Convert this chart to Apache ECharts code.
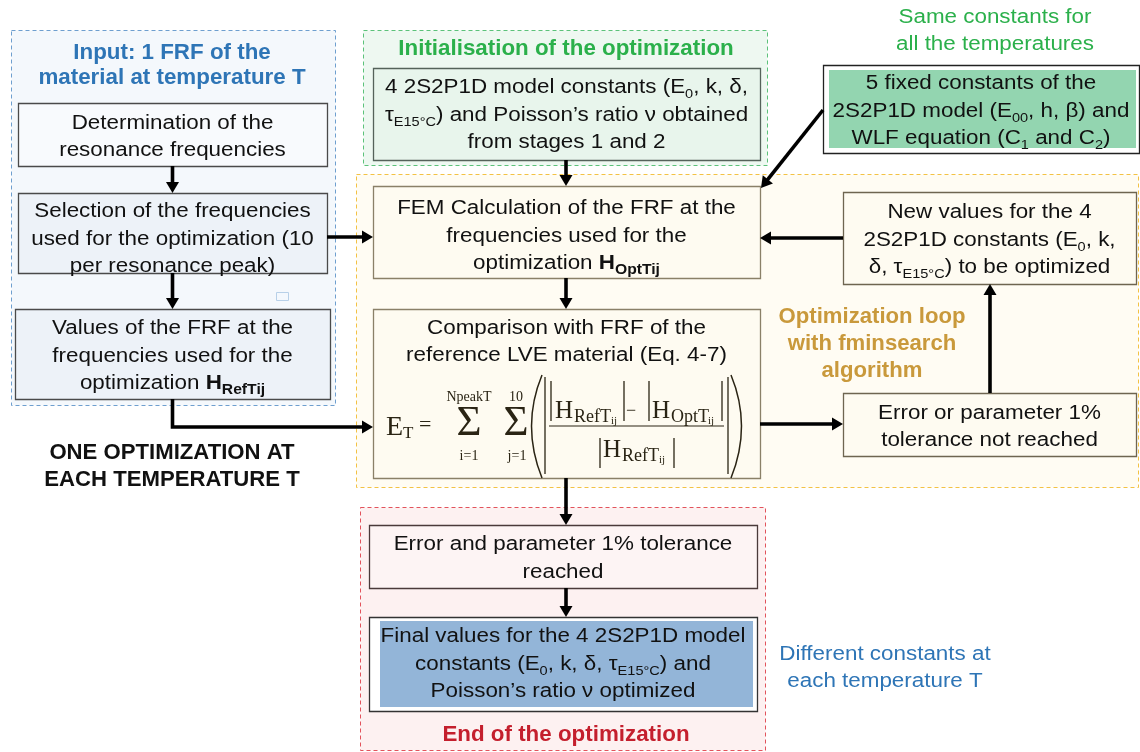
<!DOCTYPE html>
<html><head><meta charset="utf-8">
<script src="https://cdn.jsdelivr.net/npm/echarts@6/dist/echarts.min.js"></script>
<style>html,body{margin:0;padding:0;background:#fff}#c{width:1140px;height:752px}</style>
</head><body><div id="c"></div>
<script>
// ---------- content ----------
const groupNames  = ['input', 'init', 'loop', 'end'];
const groupTitles = ['Input: 1 FRF of the\nmaterial at temperature T', 'Initialisation of the optimization', '', 'End of the optimization'];

const boxNames  = ['det', 'sel', 'val', 'init', 'fem', 'cmp', 'newv', 'err', 'fixed', 'reach', 'final'];
const boxLabels = [
  'Determination of the\nresonance frequencies',
  'Selection of the frequencies\nused for the optimization (10\nper resonance peak)',
  'Values of the FRF at the\nfrequencies used for the\noptimization {b|H}{bs|RefTij}',
  '4 2S2P1D model constants (E{s|0}, k, δ,\nτ{s|E15°C}) and Poisson’s ratio ν obtained\nfrom stages 1 and 2',
  'FEM Calculation of the FRF at the\nfrequencies used for the\noptimization {b|H}{bs|OptTij}',
  'Comparison with FRF of the\nreference LVE material (Eq. 4-7)',
  'New values for the 4\n2S2P1D constants (E{s|0}, k,\nδ, τ{s|E15°C}) to be optimized',
  'Error or parameter 1%\ntolerance not reached',
  '5 fixed constants of the\n2S2P1D model (E{s|00}, h, β) and\nWLF equation (C{s|1} and C{s|2})',
  'Error and parameter 1% tolerance\nreached',
  'Final values for the 4 2S2P1D model\nconstants (E{s|0}, k, δ, τ{s|E15°C}) and\nPoisson’s ratio ν optimized'
];

const noteNames  = ['same', 'one', 'loopNote', 'diff'];
const noteLabels = [
  'Same constants for\nall the temperatures',
  'ONE OPTIMIZATION AT\nEACH TEMPERATURE T',
  'Optimization loop\nwith fminsearch\nalgorithm',
  'Different constants at\neach temperature T'
];

// arrows: [from, to, kind]
const links = [
  ['det', 'sel', 'down'], ['sel', 'val', 'down'], ['sel', 'fem', 'right'],
  ['val', 'cmp', 'elbow'], ['init', 'fem', 'down'], ['fixed', 'fem', 'diag'],
  ['fem', 'cmp', 'down'], ['newv', 'fem', 'left'], ['cmp', 'err', 'right'],
  ['err', 'newv', 'up'], ['cmp', 'reach', 'down'], ['reach', 'final', 'down']
];

// error formula tokens
const formulaText = ['E', 'T', '=', 'Σ', 'NpeakT', 'i=1', 'Σ', '10', 'j=1',
  'H', 'RefT', 'ij', '−', 'H', 'OptT', 'ij', 'H', 'RefT', 'ij'];

// ---------- layout & style ----------
const FONT = 'Liberation Sans', SERIF = 'Liberation Serif';
const SX = 1.12;
const groupLayout = {
  input: {x: 11, y: 30, w: 324, h: 375, stroke: '#6e9fcf', fill: '#f4f8fc', color: '#2e75b6', cx: 172, cy: 65.5},
  init:  {x: 363, y: 30, w: 404, h: 135, stroke: '#5cc27a', fill: '#eef8f1', color: '#2bb04b', cx: 566, cy: 49.5},
  loop:  {x: 356, y: 174, w: 782, h: 313, stroke: '#f3c244', fill: '#fffcf3'},
  end:   {x: 360, y: 507, w: 405, h: 243, stroke: '#e2535c', fill: '#fdf1f1', color: '#c41f2d', cx: 566, cy: 735.5}
};
const boxLayout = {
  det:   {x: 18,  y: 103, w: 309, h: 63,  fill: '#f8fafd', stroke: '#4a4a4a', cy: 137},
  sel:   {x: 18,  y: 193, w: 309, h: 80,  fill: '#edf2f8', stroke: '#4a4a4a', cy: 239},
  val:   {x: 15,  y: 309, w: 315, h: 90,  fill: '#edf2f8', stroke: '#4a4a4a', cy: 356},
  init:  {x: 373, y: 68,  w: 387, h: 92,  fill: '#e8f5ec', stroke: '#55625a', cy: 115},
  fem:   {x: 373, y: 186, w: 387, h: 92,  fill: '#fefbf1', stroke: '#8a8068', cy: 236},
  cmp:   {x: 373, y: 309, w: 387, h: 169, fill: '#fefbf1', stroke: '#8a8068', cy: 342},
  newv:  {x: 843, y: 192, w: 293, h: 92,  fill: '#fefbf1', stroke: '#6e6550', cy: 240},
  err:   {x: 843, y: 393, w: 293, h: 63,  fill: '#fefbf1', stroke: '#6e6550', cy: 427},
  fixed: {x: 823, y: 65,  w: 316, h: 88,  fill: '#ffffff', stroke: '#222', inner: '#93d5b0', pad: [5, 3, 5, 6], cy: 111},
  reach: {x: 369, y: 525, w: 388, h: 63,  fill: '#fdf4f4', stroke: '#4a3a3a', cy: 558.5},
  final: {x: 369, y: 617, w: 388, h: 94,  fill: '#ffffff', stroke: '#333', inner: '#93b5d8', pad: [4, 4, 4, 11], cy: 664}
};
const noteLayout = {
  same:     {cx: 995, cy: 31, color: '#2bb04b', bold: false},
  one:      {cx: 172, cy: 467, color: '#111', bold: true},
  loopNote: {cx: 872, cy: 344, color: '#c9993b', bold: true},
  diff:     {cx: 885, cy: 668, color: '#2e75b6', bold: false}
};
const linkOpts = {
  'sel>fem': {y: 237}, 'val>cmp': {y: 427}, 'newv>fem': {y: 238}, 'cmp>err': {y: 424},
  'err>newv': {x: 990}, 'fixed>fem': {p1: [823, 110], p2: [761, 188]}, 'init>fem': {x: 566},
  'fem>cmp': {x: 566}, 'cmp>reach': {x: 566}, 'reach>final': {x: 566}
};
// formula token placement: [x, y, size, align]
const formulaPos = [
  [386, 428, 28, 'left'], [403, 434, 17, 'left'], [419, 425, 22, 'left'],
  [469, 424, 43, 'center'], [469, 397, 14, 'center'], [469, 456, 14, 'center'],
  [516, 424, 43, 'center'], [516, 397, 14, 'center'], [517, 456, 14, 'center'],
  [555, 411, 25, 'left'], [574, 417, 18, 'left'], [611, 421, 11, 'left'],
  [631, 411, 18, 'center'],
  [652, 411, 25, 'left'], [671, 417, 18, 'left'], [708, 421, 11, 'left'],
  [603, 450, 25, 'left'], [622, 456, 18, 'left'], [659, 460, 11, 'left']
];
const formulaBars = [[551, 381, 421], [624, 381, 421], [649, 381, 421], [722, 381, 421],
  [600, 438, 468], [674, 438, 468], [545, 377, 474], [728, 377, 474]];

const RICH = {
  s:  {fontSize: 13, fontFamily: FONT, lineHeight: 14, verticalAlign: 'bottom'},
  b:  {fontSize: 20, fontFamily: FONT, fontWeight: 'bold'},
  bs: {fontSize: 14, fontFamily: FONT, fontWeight: 'bold', lineHeight: 14, verticalAlign: 'bottom'}
};

function txt(x, y, text, o) {
  o = o || {};
  const rich = {};
  Object.keys(RICH).forEach(k => { rich[k] = Object.assign({fill: o.color || '#111'}, RICH[k]); });
  return {
    type: 'text', x: x, y: y, scaleX: o.sx || 1, z: 20,
    style: {
      x: 0, y: 0, text: text, fill: o.color || '#111', fontSize: o.size || 20,
      fontFamily: o.family || FONT, fontWeight: o.weight || 'normal',
      align: o.align || 'center', verticalAlign: 'middle', lineHeight: o.lh || 27.5, rich: rich
    }
  };
}

function arrow(pts) {
  const hl = 11, hw = 6.5, n = pts.length;
  const [x1, y1] = pts[n - 2], [x2, y2] = pts[n - 1];
  const dx = x2 - x1, dy = y2 - y1, L = Math.hypot(dx, dy), ux = dx / L, uy = dy / L;
  const bx = x2 - ux * hl, by = y2 - uy * hl;
  const line = pts.slice(0, n - 1).concat([[bx + ux, by + uy]]);
  return [
    {type: 'polyline', z: 15, shape: {points: line}, style: {stroke: '#000', lineWidth: 3.6, fill: null, lineJoin: 'miter'}},
    {type: 'polygon', z: 15, shape: {points: [[x2, y2], [bx - uy * hw, by + ux * hw], [bx + uy * hw, by - ux * hw]]}, style: {fill: '#000'}}
  ];
}

const els = [];
// groups
groupNames.forEach((g, i) => {
  const L = groupLayout[g];
  els.push({type: 'rect', z: 1, shape: {x: L.x + 0.5, y: L.y + 0.5, width: L.w, height: L.h},
    style: {fill: L.fill, stroke: L.stroke, lineWidth: 1, lineDash: [4, 3]}});
  if (groupTitles[i]) els.push(txt(L.cx, L.cy, groupTitles[i], {color: L.color, weight: 'bold', size: 21.5, lh: 25, sx: 1.04}));
});
// boxes
boxNames.forEach((b, i) => {
  const L = boxLayout[b];
  els.push({type: 'rect', z: 5, shape: {x: L.x + 0.5, y: L.y + 0.5, width: L.w, height: L.h},
    style: {fill: L.fill, stroke: L.stroke, lineWidth: 1.3}});
  if (L.inner) {
    const p = L.pad;
    els.push({type: 'rect', z: 6, shape: {x: L.x + p[3], y: L.y + p[0], width: L.w - p[1] - p[3], height: L.h - p[0] - p[2]},
      style: {fill: L.inner}});
  }
  els.push(txt(L.x + L.w / 2, L.cy, boxLabels[i], {sx: SX}));
});
// small artifact icon in the input group
els.push({type: 'rect', z: 6, shape: {x: 276.5, y: 292.5, width: 12, height: 8}, style: {fill: '#f3f8fd', stroke: '#b7d0e8', lineWidth: 1}});
// notes
noteNames.forEach((n, i) => {
  const L = noteLayout[n];
  els.push(txt(L.cx, L.cy, noteLabels[i], L.bold
    ? {color: L.color, weight: 'bold', size: 21.5, lh: 27, sx: 1.03}
    : {color: L.color, sx: SX, lh: 27.5}));
});
// links
const B = n => boxLayout[n];
links.forEach(([f, t, kind]) => {
  const a = B(f), b = B(t), o = linkOpts[f + '>' + t] || {};
  let pts;
  if (kind === 'down') { const x = o.x || (a.x + a.w / 2); pts = [[x, a.y + a.h], [x, b.y]]; }
  else if (kind === 'up') { pts = [[o.x, a.y], [o.x, b.y + b.h]]; }
  else if (kind === 'right') { pts = [[a.x + a.w, o.y], [b.x, o.y]]; }
  else if (kind === 'left') { pts = [[a.x, o.y], [b.x + b.w, o.y]]; }
  else if (kind === 'elbow') { const x = a.x + a.w / 2; pts = [[x, a.y + a.h], [x, o.y], [b.x, o.y]]; }
  else if (kind === 'diag') { pts = [o.p1, o.p2]; }
  arrow(pts).forEach(e => els.push(e));
});
// formula
const FC = '#2a2414';
formulaText.forEach((t, i) => {
  const p = formulaPos[i];
  els.push({type: 'text', z: 20, style: {x: p[0], y: p[1], text: t, fill: FC, fontSize: p[2], fontFamily: SERIF,
    align: p[3], verticalAlign: 'middle'}});
});
formulaBars.forEach(bar => els.push({type: 'line', z: 20, shape: {x1: bar[0], y1: bar[1], x2: bar[0], y2: bar[2]}, style: {stroke: FC, lineWidth: 1.3}}));
els.push({type: 'line', z: 20, shape: {x1: 549, y1: 426, x2: 724, y2: 426}, style: {stroke: FC, lineWidth: 1.2}});
els.push({type: 'bezierCurve', z: 20, shape: {x1: 542, y1: 375, cpx1: 521, cpy1: 426, x2: 542, y2: 478}, style: {stroke: FC, lineWidth: 1.5, fill: null}});
els.push({type: 'bezierCurve', z: 20, shape: {x1: 731, y1: 375, cpx1: 752, cpy1: 426, x2: 731, y2: 478}, style: {stroke: FC, lineWidth: 1.5, fill: null}});

const chart = echarts.init(document.getElementById('c'), null, {renderer: 'canvas'});
chart.setOption({backgroundColor: '#ffffff', animation: false, graphic: {elements: els}});
</script>
</body></html>
